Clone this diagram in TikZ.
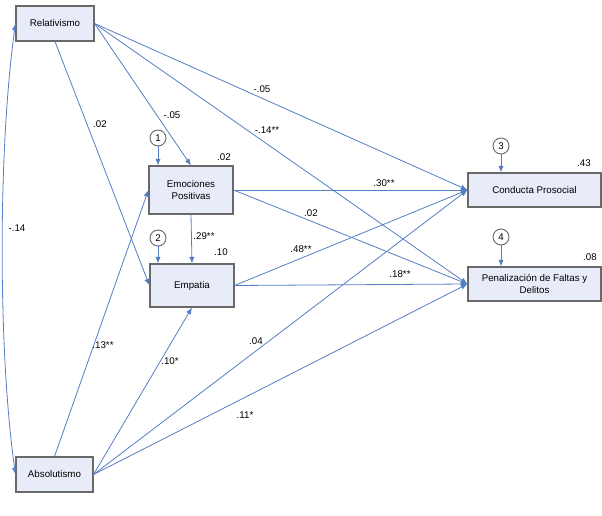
\documentclass[tikz,border=0pt]{standalone}
\usepackage{fontspec}
\setmainfont{Liberation Sans}
\usetikzlibrary{arrows.meta}
\definecolor{boxfill}{RGB}{232,236,248}
\definecolor{boxline}{RGB}{105,105,105}
\definecolor{arr}{RGB}{84,126,196}
\begin{document}
\begin{tikzpicture}[x=0.75pt,y=-0.75pt,
  font=\fontsize{7.3}{8.9}\selectfont,
  var/.style={draw=boxline, fill=boxfill, line width=0.8pt, align=center, inner sep=0pt},
  err/.style={circle, draw=boxline, fill=white, line width=0.7pt, minimum size=12pt, inner sep=0pt},
  pth/.style={draw=arr, line width=0.6pt, -{Latex[length=5pt,width=4pt]}},
  dpth/.style={draw=arr, line width=0.6pt, {Latex[length=5pt,width=4pt]}-{Latex[length=5pt,width=4pt]}},
  lab/.style={inner sep=0pt}]
\useasboundingbox (0,0) rectangle (602,516);
% variables
\node[var, minimum width=78*0.75pt, minimum height=35*0.75pt] (rel) at (55,23.5) {Relativismo};
\node[var, minimum width=77*0.75pt, minimum height=35*0.75pt] (abs) at (54.5,474.5) {Absolutismo};
\node[var, minimum width=84*0.75pt, minimum height=48*0.75pt] (emo) at (191,190) {Emociones\\Positivas};
\node[var, minimum width=84*0.75pt, minimum height=43*0.75pt] (emp) at (192,285.5) {Empatia};
\node[var, minimum width=133*0.75pt, minimum height=34*0.75pt] (con) at (534.5,190) {Conducta Prosocial};
\node[var, minimum width=133*0.75pt, minimum height=34*0.75pt] (pen) at (534.5,284) {Penalización de Faltas y\\Delitos};
% error terms
\node[err] (e1) at (158,138) {1};
\node[err] (e2) at (158,238) {2};
\node[err] (e3) at (501,146) {3};
\node[err] (e4) at (501,237) {4};
% error arrows
\draw[pth] (e1) -- (e1 |- emo.north);
\draw[pth] (e2) -- (e2 |- emp.north);
\draw[pth] (e3) -- (e3 |- con.north);
\draw[pth] (e4) -- (e4 |- pen.north);
% paths
\draw[pth] (rel.east) -- (con.west);
\draw[pth] (rel.east) -- (pen.west);
\draw[pth] (rel.east) -- (emo.north);
\draw[pth] (rel.south) -- (emp.west);
\draw[pth] (abs.north) -- (emo.west);
\draw[pth] (abs.east) -- (emp.south);
\draw[pth] (abs.east) -- (con.west);
\draw[pth] (abs.east) -- (pen.west);
\draw[pth] (emo.east) -- (con.west);
\draw[pth] (emo.east) -- (pen.west);
\draw[pth] (emo.south) -- (emp.north);
\draw[pth] (emp.east) -- (con.west);
\draw[pth] (emp.east) -- (pen.west);
% correlation
\draw[dpth] (rel.west) .. controls (-2,150) and (-2,350) .. (abs.west);
% labels
\node[lab] (l1) at (262,89) {-.05};
\node[lab] (l2) at (267,130) {-.14**};
\node[lab] (l3) at (172,115) {-.05};
\node[lab] (l4) at (100,124) {.02};
\node[lab] (l5) at (17,228) {-.14};
\node[lab] (l6) at (103,345) {.13**};
\node[lab] (l7) at (170,361) {.10*};
\node[lab] (l8) at (256,341) {.04};
\node[lab] (l9) at (245,415) {.11*};
\node[lab] (l10) at (384,183) {.30**};
\node[lab] (l11) at (311,213) {.02};
\node[lab] (l12) at (204,236) {.29**};
\node[lab] (l13) at (301,249) {.48**};
\node[lab] (l14) at (400,274) {.18**};
\node[lab] (r1) at (224,157) {.02};
\node[lab] (r2) at (221,252) {.10};
\node[lab] (r3) at (584,163) {.43};
\node[lab] (r4) at (590,257) {.08};
\end{tikzpicture}
\end{document}
